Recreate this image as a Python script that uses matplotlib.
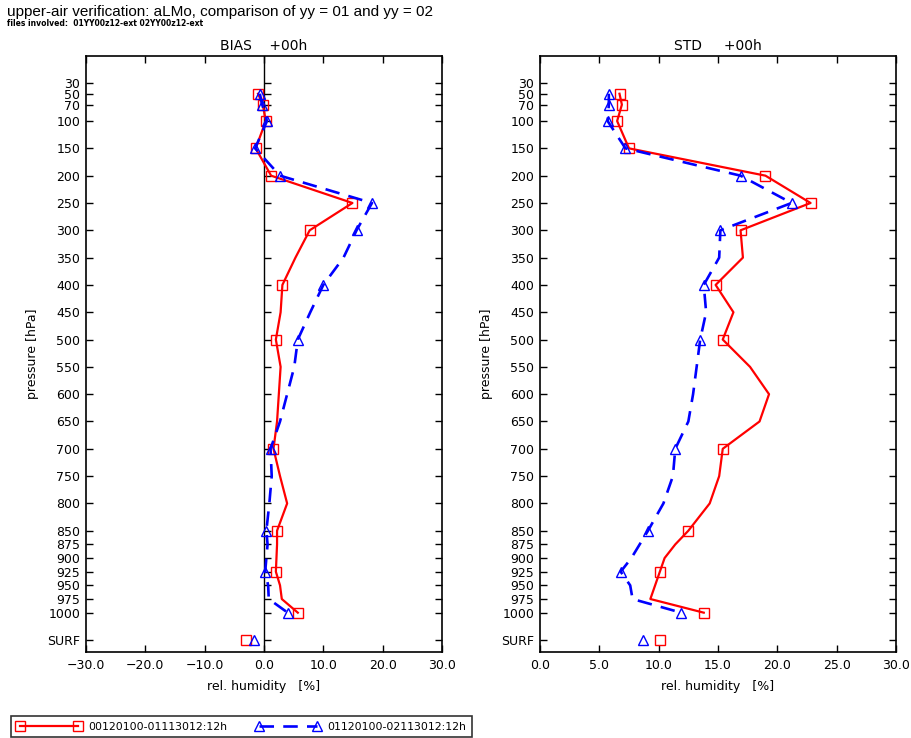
import numpy as np
import matplotlib
matplotlib.use("Agg")
import matplotlib.pyplot as plt
from matplotlib.lines import Line2D

plt.rcParams['font.family'] = ['DejaVu Sans']

# ---------------- data ----------------
levels = [50, 70, 100, 150, 200, 250, 300, 350, 400, 450, 500, 550, 600, 650,
          700, 750, 800, 850, 875, 900, 925, 950, 975, 1000]
marker_levels = [50, 70, 100, 150, 200, 250, 300, 400, 500, 700, 850, 925, 1000]
tick_levels = [30, 50, 70, 100, 150, 200, 250, 300, 350, 400, 450, 500, 550, 600,
               650, 700, 750, 800, 850, 875, 900, 925, 950, 975, 1000, 1050]
tick_labels = ['30', '50', '70', '100', '150', '200', '250', '300', '350', '400',
               '450', '500', '550', '600', '650', '700', '750', '800', '850', '875',
               '900', '925', '950', '975', '1000', 'SURF']
surf_level = 1050

bias_red = [-1.0, -0.2, 0.3, -1.4, 1.2, 14.9, 7.7, 5.3, 3.1, 2.8, 2.0, 2.8, 2.5, 2.2,
            1.6, 2.7, 3.9, 2.2, 2.2, 2.1, 2.0, 2.7, 3.0, 5.7]
bias_blue = [-0.7, -0.3, 0.5, -1.5, 2.7, 18.2, 15.6, 13.4, 10.0, 7.8, 5.7, 5.1, 3.9, 2.7,
             1.1, 1.3, 0.9, 0.4, 0.6, 0.4, 0.2, 0.7, 0.8, 4.0]
bias_surf_red = -3.1
bias_surf_blue = -1.7

std_red = [6.7, 6.9, 6.5, 7.5, 19.0, 22.8, 16.9, 17.1, 14.8, 16.3, 15.4, 17.7, 19.3, 18.5,
           15.4, 15.1, 14.3, 12.5, 11.4, 10.5, 10.1, 9.7, 9.3, 13.8]
std_blue = [5.8, 5.8, 5.7, 7.2, 16.9, 21.2, 15.2, 15.1, 13.8, 14.0, 13.5, 13.2, 12.9, 12.5,
            11.4, 11.2, 10.4, 9.1, 8.4, 7.7, 6.8, 7.6, 7.8, 11.9]
std_surf_red = 10.1
std_surf_blue = 8.7

labels = ['00120100-01113012:12h', '01120100-02113012:12h']
bias_xticks = [-30, -20, -10, 0, 10, 20, 30]
std_xticks = [0, 5, 10, 15, 20, 25, 30]

# ---------------- figure ----------------
W, H = 912, 738
fig = plt.figure(figsize=(W / 100, H / 100), dpi=100)

def frac(x0, y0, x1, y1):
    return [x0 / W, 1 - y1 / H, (x1 - x0) / W, (y1 - y0) / H]

ax1 = fig.add_axes(frac(86, 55.5, 442, 652))
ax2 = fig.add_axes(frac(540, 55.5, 896, 652))

mk_idx = [levels.index(l) for l in marker_levels]

red_kw = dict(color='#ff0000', lw=1.6, marker='s', markersize=6.5, mfc='none',
              mec='#ff0000', mew=1.0)
blue_kw = dict(color='#0000ff', lw=1.9, ls=(0, (5.5, 3.5)), marker='^', markersize=7,
               mfc='none', mec='#0000ff', mew=1.0)

def style(ax, xticks, xlabels, title):
    ax.set_ylim(1072, -20)
    ax.set_xlim(xticks[0], xticks[-1])
    ax.set_yticks(tick_levels)
    ax.set_yticklabels(tick_labels)
    ax.set_xticks(xticks)
    ax.set_xticklabels(xlabels)
    ax.tick_params(direction='in', length=5, width=1, top=True, right=True,
                   labelsize=9, pad=5, colors='black')
    ax.tick_params(axis='y', pad=4)
    for s in ax.spines.values():
        s.set_linewidth(1.2)
    ax.set_xlabel('rel. humidity   [%]', fontsize=9, labelpad=6)
    ax.set_ylabel('pressure [hPa]', fontsize=9, labelpad=6)
    ax.set_title(title, fontsize=10, pad=4)

def fmt(v):
    return f'{v:.1f}'.replace('-', '\u2212')

# BIAS
ax1.axvline(0, color='k', lw=1.0)
ax1.plot(np.zeros(len(tick_levels)), tick_levels, ls='', marker=1, markersize=5,
         color='k', mew=1.0)
ax1.plot(bias_red, levels, markevery=mk_idx, **red_kw)
ax1.plot(bias_blue, levels, markevery=mk_idx, **blue_kw)
ax1.plot([bias_surf_red], [surf_level], ls='', marker='s', markersize=6.5, mfc='none',
         mec='#ff0000', mew=1.0)
ax1.plot([bias_surf_blue], [surf_level], ls='', marker='^', markersize=7, mfc='none',
         mec='#0000ff', mew=1.0)
style(ax1, bias_xticks, [fmt(v) for v in bias_xticks], 'BIAS    +00h')

# STD
ax2.plot(std_red, levels, markevery=mk_idx, **red_kw)
ax2.plot(std_blue, levels, markevery=mk_idx, **blue_kw)
ax2.plot([std_surf_red], [surf_level], ls='', marker='s', markersize=6.5, mfc='none',
         mec='#ff0000', mew=1.0)
ax2.plot([std_surf_blue], [surf_level], ls='', marker='^', markersize=7, mfc='none',
         mec='#0000ff', mew=1.0)
style(ax2, std_xticks, [fmt(v) for v in std_xticks], 'STD     +00h')

# titles
fig.text(7 / W, 1 - 16 / H, 'upper-air verification: aLMo, comparison of yy = 01 and yy = 02',
         fontsize=11, family='Liberation Sans', va='baseline', ha='left')
fig.text(7 / W, 1 - 25.5 / H, 'files involved:  01YY00z12-ext 02YY00z12-ext',
         fontsize=5.5, fontweight='bold', va='baseline', ha='left')

# legend
h1 = Line2D([], [], **red_kw)
h2 = Line2D([], [], **blue_kw)
leg = fig.legend([h1, h2], labels, loc='lower left', ncol=2, numpoints=2,
                 bbox_to_anchor=(11 / W, 1 / H),
                 fontsize=7.8, frameon=True, fancybox=False, edgecolor='black',
                 handlelength=6.0, handletextpad=0.65, columnspacing=2.6,
                 borderpad=0.5, borderaxespad=0)
leg.get_frame().set_linewidth(1.2)

fig.savefig('out.png', dpi=100)
